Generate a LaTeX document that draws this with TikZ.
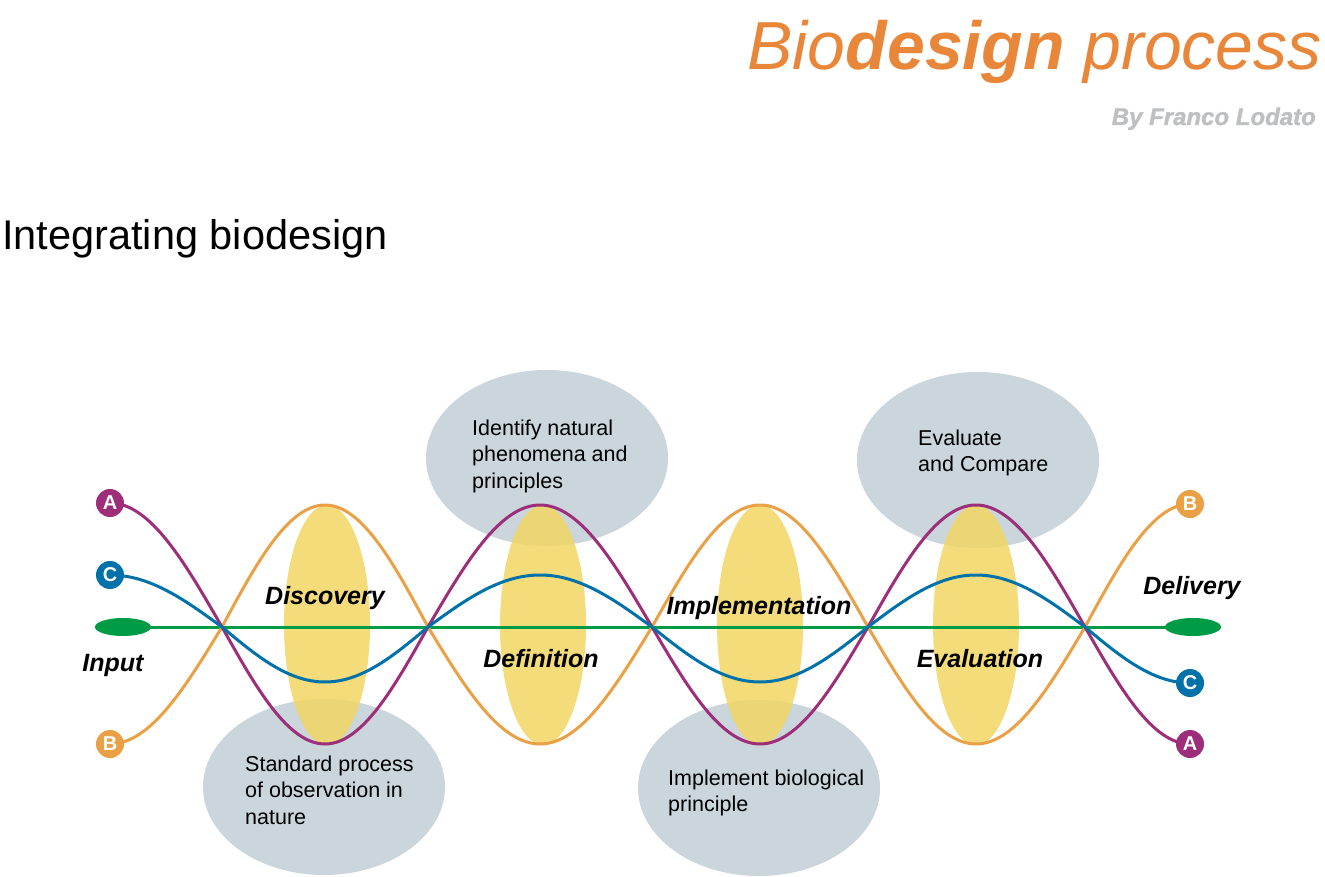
\documentclass[tikz,border=0pt]{standalone}
\usepackage{fontspec}
\setmainfont{Liberation Sans}
\newfontfamily\heavyfont{Liberation Sans}[BoldItalicFeatures={FakeBold=1.6}]
\usetikzlibrary{shapes.geometric,positioning}
\definecolor{titleorange}{HTML}{E8873A}
\definecolor{bylinegray}{HTML}{BDBFC1}
\definecolor{waveorange}{HTML}{EAA044}
\definecolor{wavepurple}{HTML}{9C2E7A}
\definecolor{waveblue}{HTML}{0072A9}
\definecolor{linegreen}{HTML}{009B45}
\definecolor{bubblegray}{HTML}{CAD5DC}
\definecolor{phaseyellow}{HTML}{F1D662}
\tikzset{
  bubble/.style={ellipse, fill=bubblegray, minimum width=242pt, minimum height=176pt, inner sep=0pt},
  phase/.style={ellipse, fill=phaseyellow, fill opacity=0.85, minimum width=86pt, minimum height=240pt, inner sep=0pt},
  wave/.style={line width=3pt},
  letter/.style={circle, fill=#1, text=white, font=\fontsize{20}{20}\selectfont\bfseries, minimum size=28pt, inner sep=0pt},
  stage/.style={font=\fontsize{25}{25}\selectfont\bfseries\itshape, inner sep=0pt},
  note/.style={align=left, anchor=west, inner sep=0pt, font=\fontsize{21.5}{26.5}\selectfont},
  terminal/.style={ellipse, fill=linegreen, minimum width=56pt, minimum height=18pt, inner sep=0pt},
}

\begin{document}
\begin{tikzpicture}[x=1pt, y=-1pt]
  \useasboundingbox (0,0) rectangle (1325,877);

  % Heading
  \node[anchor=base east, inner sep=0pt, text=titleorange, font=\fontsize{68}{68}\selectfont\itshape] (title) at (1322,70) {Bio\textbf{design} process};
  \node[anchor=base east, inner sep=0pt, text=bylinegray, font=\fontsize{24}{24}\selectfont\heavyfont\bfseries\itshape] (byline) at (1316,125) {By Franco Lodato};
  \node[anchor=base west, inner sep=0pt, font=\fontsize{41.5}{41.5}\selectfont] (subtitle) at (2,250) {Integrating biodesign};

  % Grey bubbles with notes
  \node[bubble] (b1) at (324,787) {};
  \node[bubble] (b2) at (547,458) {};
  \node[bubble] (b3) at (759,788) {};
  \node[bubble] (b4) at (978,460) {};
  \node[note] (n1) at (245,790) {Standard process\\of observation in\\nature};
  \node[note] (n2) at (472,456) {Identify natural\\phenomena and\\principles};
  \node[note] (n3) at (668,793) {Implement biological\\principle};
  \node[note] (n4) at (918,453) {Evaluate\\and Compare};

  % Yellow phases
  \foreach \n/\x in {1/327,2/543,3/760,4/976}
    \node[phase] (p\n) at (\x,625) {};

  % Crossings and turning points
  \foreach \n/\x in {0/222,1/428,2/652,3/868,4/1085}
    \coordinate (k\n) at (\x,627);
  \foreach \n/\x in {1/325,2/540,3/760,4/976} {
    \coordinate (hi\n) at (\x,505);
    \coordinate (lo\n) at (\x,744);
    \coordinate (bhi\n) at (\x,575);
    \coordinate (blo\n) at (\x,682);
  }
  \coordinate (inA) at (110,503);
  \coordinate (inC) at (110,575);
  \coordinate (inB) at (110,744);
  \coordinate (outB) at (1190,504);
  \coordinate (outC) at (1190,683);
  \coordinate (outA) at (1190,744);
  \coordinate (inG) at (123,627);
  \coordinate (outG) at (1193,627);

  % Main line
  \draw[line width=3pt, linegreen] (inG) -- (outG);

  % Waves
  \draw[wave, waveorange] (inB) cos (k0) sin (hi1) cos (k1) sin (lo2) cos (k2)
    sin (hi3) cos (k3) sin (lo4) cos (k4) sin (outB);
  \draw[wave, wavepurple] (inA) cos (k0) sin (lo1) cos (k1) sin (hi2) cos (k2)
    sin (lo3) cos (k3) sin (hi4) cos (k4) sin (outA);
  \draw[wave, waveblue] (inC) cos (k0) sin (blo1) cos (k1) sin (bhi2) cos (k2)
    sin (blo3) cos (k3) sin (bhi4) cos (k4) sin (outC);

  % Ends
  \node[terminal] (input) at (inG) {};
  \node[terminal] (delivery) at (outG) {};
  \node[letter=wavepurple] (a1) at (inA) {A};
  \node[letter=waveblue] (c1) at (inC) {C};
  \node[letter=waveorange] (b1) at (inB) {B};
  \node[letter=waveorange] (b2) at (outB) {B};
  \node[letter=waveblue] (c2) at (outC) {C};
  \node[letter=wavepurple] (a2) at (outA) {A};

  % Stage labels
  \node[stage] (lin) at (113,665) {Input};
  \node[stage] (ldis) at (325,598) {Discovery};
  \node[stage] (ldef) at (541,659) {Definition};
  \node[stage] (limp) at (759,608) {Implementation};
  \node[stage] (leva) at (980,659) {Evaluation};
  \node[stage] (ldel) at (1192,588) {Delivery};
\end{tikzpicture}
\end{document}
